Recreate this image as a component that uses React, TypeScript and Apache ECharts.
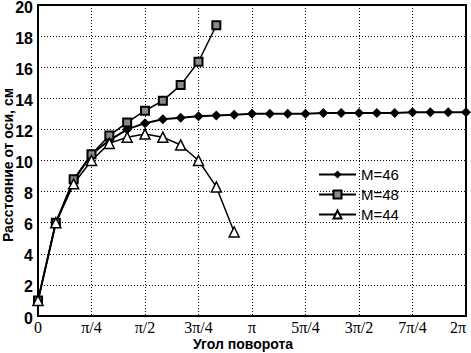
import React, { useEffect, useRef } from "react";
import * as echarts from "echarts";

const angles = [0, 15, 30, 45, 60, 75, 90, 105, 120, 135, 150, 165, 180, 195, 210, 225, 240, 255, 270, 285, 300, 315, 330, 345, 360];
const m46 = [1, 6, 8.7, 10.4, 11.3, 12.0, 12.4, 12.65, 12.75, 12.85, 12.9, 12.95, 13.0, 13.0, 13.0, 13.0, 13.05, 13.05, 13.05, 13.05, 13.05, 13.1, 13.1, 13.1, 13.1];
const m48 = [1, 6, 8.8, 10.4, 11.6, 12.45, 13.2, 13.85, 14.85, 16.35, 18.7];
const m44 = [1, 6, 8.5, 10.0, 11.1, 11.5, 11.7, 11.5, 11.0, 10.0, 8.3, 5.4];
const xTickLabels: Record<number, string> = {
  0: "0", 45: "π/4", 90: "π/2", 135: "3π/4", 180: "π", 225: "5π/4", 270: "3π/2", 315: "7π/4", 360: "2π",
};
const seriesNames = ["M=46", "M=48", "M=44"];
const xTitle = "Угол поворота";
const yTitle = "Расстояние от оси, см";

export default function App() {
  const ref = useRef<HTMLDivElement>(null);
  useEffect(() => {
    if (!ref.current) return;
    const chart = echarts.init(ref.current, null, { renderer: "svg" });
    const pair = (vals: number[]) => vals.map((v, i) => [angles[i], v]);
    const titleFont = { fontFamily: "Liberation Sans", fontSize: 14, fontWeight: "bold", fill: "#000" };
    chart.setOption({
      animation: false,
      backgroundColor: "#fff",
      grid: {
        left: 38, right: 5, top: 5, bottom: 37,
        containLabel: false, outerBoundsMode: "none",
        show: true, borderColor: "#000", borderWidth: 2,
      },
      legend: {
        orient: "vertical",
        left: 313,
        top: 162,
        itemWidth: 37,
        itemHeight: 10,
        itemGap: 5,
        data: seriesNames,
        textStyle: { fontFamily: "Liberation Sans", fontSize: 15, color: "#000" },
      },
      graphic: [
        {
          type: "text",
          x: 243,
          y: 344,
          style: { ...titleFont, text: xTitle, align: "center", verticalAlign: "middle" },
        },
        {
          type: "text",
          x: 8,
          y: 165,
          rotation: Math.PI / 2,
          style: { ...titleFont, text: yTitle, align: "center", verticalAlign: "middle" },
        },
      ],
      xAxis: {
        type: "value",
        min: 0,
        max: 360,
        interval: 45,
        axisLine: { lineStyle: { color: "#000", width: 2 } },
        axisTick: { show: false },
        axisLabel: {
          margin: 3,
          fontFamily: "Liberation Serif",
          fontSize: 16,
          color: "#000",
          alignMaxLabel: "right",
          formatter: (v: number) => xTickLabels[v] ?? "",
        },
        splitLine: { show: true, lineStyle: { color: "#000", type: [1, 2], width: 1 } },
      },
      yAxis: {
        type: "value",
        min: 0,
        max: 20,
        interval: 2,
        axisLine: { show: true, lineStyle: { color: "#000", width: 2 } },
        axisTick: { show: false },
        axisLabel: {
          margin: 5,
          formatter: (v: number) => "{a|" + v + "}",
          rich: {
            a: {
              padding: [4, 0, 0, 0],
              fontFamily: "Liberation Sans",
              fontSize: 16,
              fontWeight: "bold",
              color: "#000",
            },
          },
        },
        splitLine: { show: true, lineStyle: { color: "#000", type: [1, 2], width: 1 } },
      },
      series: [
        {
          name: seriesNames[0],
          type: "line",
          data: pair(m46),
          symbol: "diamond",
          symbolSize: 10,
          lineStyle: { color: "#000", width: 2 },
          itemStyle: { color: "#000" },
        },
        {
          name: seriesNames[1],
          type: "line",
          data: pair(m48),
          symbol: "rect",
          symbolSize: 8,
          lineStyle: { color: "#000", width: 1.5 },
          itemStyle: { color: "#8a8a8a", borderColor: "#000", borderWidth: 2 },
        },
        {
          name: seriesNames[2],
          type: "line",
          data: pair(m44),
          symbol: "triangle",
          symbolSize: 10,
          lineStyle: { color: "#000", width: 1.5 },
          itemStyle: { color: "#fff", borderColor: "#000", borderWidth: 1.5 },
        },
      ],
    });
    return () => chart.dispose();
  }, []);
  return <div ref={ref} style={{ position: "fixed", left: 0, top: 0, width: 471, height: 353 }} />;
}
